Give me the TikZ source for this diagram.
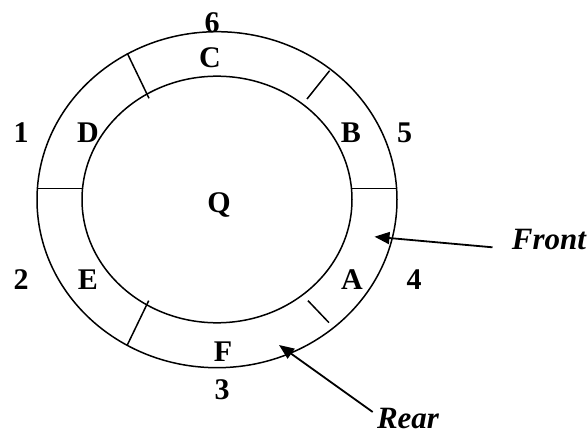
\documentclass[tikz,border=0pt]{standalone}
\usepackage{fontspec}
\setmainfont{Liberation Serif}
\usetikzlibrary{arrows.meta}
\begin{document}
\begin{tikzpicture}[x=1pt,y=-1pt,
  ring/.style={line width=1.5pt},
  lab/.style={font=\fontsize{30}{31}\selectfont\bfseries, inner sep=0pt},
  tag/.style={font=\fontsize{31}{32}\selectfont\bfseries\itshape, inner sep=0pt},
  pointer/.style={line width=1.8pt, -{Triangle[length=15pt,width=12pt]}}]
\useasboundingbox (0,0) rectangle (587,436);
\draw[ring] (217,199.7) ellipse [x radius=180pt, y radius=168pt];
\draw[ring] (217,199.5) ellipse [x radius=135pt, y radius=123.3pt];
% dividers
\draw[ring] (37,188.3) -- (82.4,188.3);
\draw[ring] (352,188.3) -- (397,188.3);
\draw[ring] (127.3,53.3) -- (149,98.3);
\draw[ring] (329.6,70.7) -- (307,99);
\draw[ring] (308,300.7) -- (329,322.7);
\draw[ring] (148.7,300.7) -- (127.3,345);
% labels
\node[lab] (n6) at (212,22.7) {6};
\node[lab] (C) at (210,57.3) {C};
\node[lab] (n1) at (21,132.7) {1};
\node[lab] (D) at (88,132.7) {D};
\node[lab] (B) at (351,132.7) {B};
\node[lab] (n5) at (404.5,132.7) {5};
\node[lab] (Q) at (219,205) {Q};
\node[lab] (n2) at (21,280) {2};
\node[lab] (E) at (88,280) {E};
\node[lab] (A) at (352,280) {A};
\node[lab] (n4) at (414,280) {4};
\node[lab] (F) at (223,351.7) {F};
\node[lab] (n3) at (222,390) {3};
\node[tag] (front) at (549,240) {Front};
\node[tag] (rear) at (408,419) {Rear};
\coordinate (fstart) at (492.5,247.3);
\coordinate (rstart) at (372.7,412);
\coordinate (ftip) at (374.5,236.7);
\coordinate (rtip) at (279,345);
\draw[pointer] (fstart) -- (ftip);
\draw[pointer] (rstart) -- (rtip);
\end{tikzpicture}
\end{document}
